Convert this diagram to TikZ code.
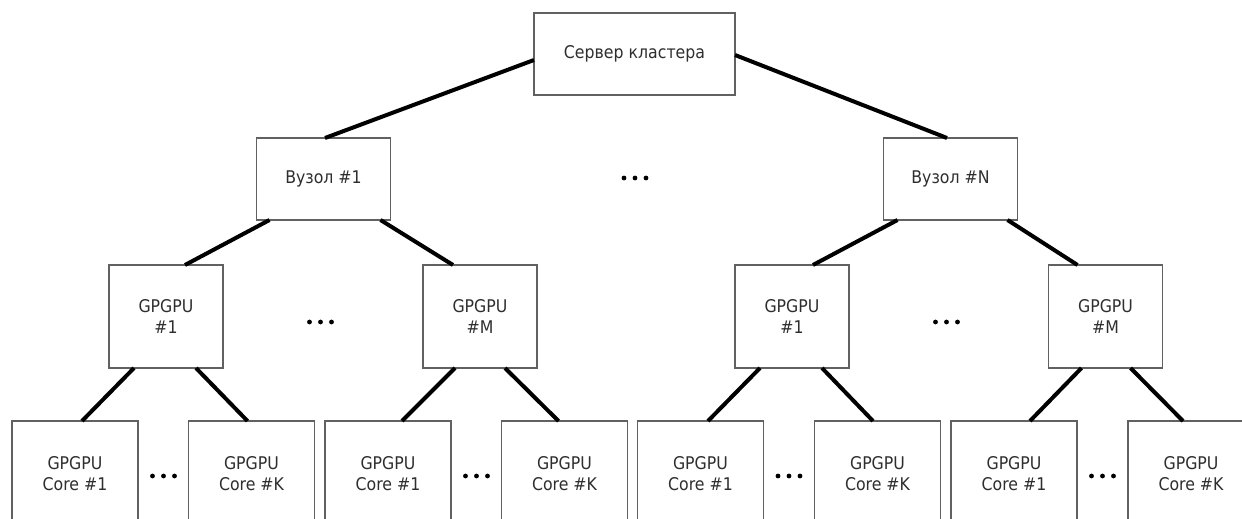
\documentclass[tikz,border=0pt]{standalone}
\usepackage{fontspec}
\setmainfont{DejaVu Sans}[FakeStretch=0.9]
\usetikzlibrary{calc}
\begin{document}
\begin{tikzpicture}[x=1pt,y=-1pt,
  box/.style={draw=black!62,line width=1.3pt,fill=white,inner sep=0pt,outer sep=0pt,
    align=center,text=black!82,font=\fontsize{17.5}{21}\selectfont},
  srvbox/.style={box,minimum width=201pt,minimum height=82pt},
  nodebox/.style={box,minimum width=134pt,minimum height=82pt},
  gpubox/.style={box,minimum width=114pt,minimum height=103pt},
  corebox/.style={box,minimum width=126pt,minimum height=106pt},
  link/.style={line width=4pt,black,line cap=butt}]
\clip (0,0) rectangle (1242,519);
\fill[white] (0,0) rectangle (1242,519);
% top
\node[srvbox] (srv) at (634.5,54) {Сервер кластера};
\node[nodebox] (v1) at (323.5,179) {Вузол \#1};
\node[nodebox] (vN) at (950.5,179) {Вузол \#N};
% gpus
\node[gpubox] (g1) at (166,316.5) {GPGPU\\\#1};
\node[gpubox] (g2) at (480,316.5) {GPGPU\\\#M};
\node[gpubox] (g3) at (792,316.5) {GPGPU\\\#1};
\node[gpubox] (g4) at (1105.5,316.5) {GPGPU\\\#M};
% cores
\node[corebox] (c1) at (75,474) {GPGPU\\Core \#1};
\node[corebox] (c2) at (251.5,474) {GPGPU\\Core \#K};
\node[corebox] (c3) at (388,474) {GPGPU\\Core \#1};
\node[corebox] (c4) at (564.5,474) {GPGPU\\Core \#K};
\node[corebox] (c5) at (700.5,474) {GPGPU\\Core \#1};
\node[corebox] (c6) at (877.5,474) {GPGPU\\Core \#K};
\node[corebox] (c7) at (1014,474) {GPGPU\\Core \#1};
\node[corebox] (c8) at (1191,474) {GPGPU\\Core \#K};
% links
\draw[link] ([yshift=-6pt]srv.west) -- ([xshift=1.5pt]v1.north);
\draw[link] ([yshift=-1pt]srv.east) -- ([xshift=-3.5pt]vN.north);
\draw[link] ([xshift=13pt]v1.south west) -- ([xshift=19pt]g1.north);
\draw[link] ([xshift=-10pt]v1.south east) -- ([xshift=-27pt]g2.north);
\draw[link] ([xshift=14pt]vN.south west) -- ([xshift=21pt]g3.north);
\draw[link] ([xshift=-10pt]vN.south east) -- ([xshift=-28pt]g4.north);
\draw[link] ([xshift=-32pt]g1.south) -- ([xshift=7pt]c1.north);
\draw[link] ([xshift=30pt]g1.south) -- ([xshift=-4pt]c2.north);
\draw[link] ([xshift=-25pt]g2.south) -- ([xshift=14pt]c3.north);
\draw[link] ([xshift=25pt]g2.south) -- ([xshift=-6pt]c4.north);
\draw[link] ([xshift=-32pt]g3.south) -- ([xshift=7.5pt]c5.north);
\draw[link] ([xshift=30pt]g3.south) -- ([xshift=-4.5pt]c6.north);
\draw[link] ([xshift=-24pt]g4.south) -- ([xshift=16pt]c7.north);
\draw[link] ([xshift=25pt]g4.south) -- ([xshift=-8pt]c8.north);
% ellipses
\foreach \x/\y in {635/178, 320.5/322, 946.5/322, 163.5/476, 476.5/476, 789/476, 1102.5/476}{
  \foreach \d in {-11,0,11}{
    \fill[black] (\x+\d,\y) circle (2.4pt);
  }
}
\end{tikzpicture}
\end{document}
